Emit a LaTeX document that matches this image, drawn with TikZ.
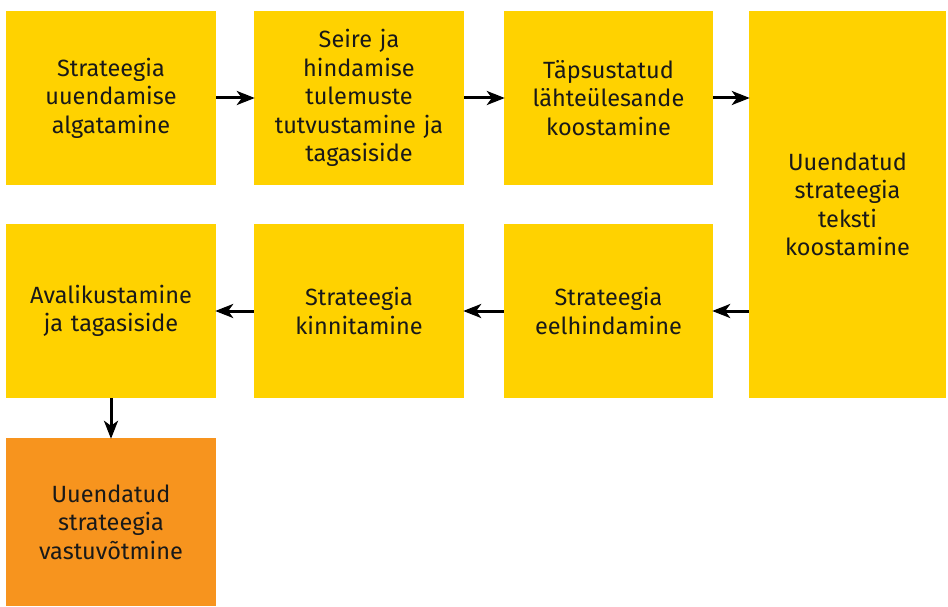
\documentclass[tikz,border=0pt]{standalone}
\usepackage{fontspec}
\setmainfont{Fira Sans}
\usepackage{tikz}
\usetikzlibrary{arrows.meta,positioning}

\definecolor{kollane}{HTML}{FFD200}
\definecolor{oranz}{HTML}{F7941E}

\tikzset{
	etapp/.style={fill=kollane,minimum width=210pt,minimum height=174pt,inner sep=0pt,
		align=center,text width=205pt,font=\fontsize{23.5}{28.5}\selectfont,text=black!90},
	noolt/.style={line width=3pt,-{Stealth[length=18pt,width=14pt,inset=5pt]},shorten >=-1pt}
}

\begin{document}
\begin{tikzpicture}[x=1pt,y=1pt,on grid,node distance=248pt]
		\useasboundingbox (0,0) rectangle (948,-607);
		\node[etapp] (e1) at (111,-98) {Strateegia\\uuendamise\\algatamine};
		\node[etapp] (e2) [right=of e1] {Seire ja\\hindamise\\tulemuste\\tutvustamine ja\\tagasiside};
		\node[etapp, minimum width=209pt] (e3) [right=249.5pt of e2] {Täpsustatud\\lähteülesande\\koostamine};
		\node[etapp, minimum width=197pt, minimum height=387pt, text width=192pt] (e4) at (847.5,-204.5) {Uuendatud\\strateegia\\teksti\\koostamine};
		
		\node[etapp, minimum width=209pt] (e7) at (608.5,-311) {Strateegia\\eelhindamine};
		\node[etapp] (e6) [left=249.5pt of e7] {Strateegia\\kinnitamine};
		\node[etapp] (e5) [left=of e6] {Avalikustamine\\ja tagasiside};
		
		\node[etapp, fill=oranz, minimum height=168pt] (e8) [below=211pt of e5] {Uuendatud\\strateegia\\vastuvõtmine};
		
		\draw[noolt] (e1.east) -- (e2.west);
		\draw[noolt] (e2.east) -- (e3.west);
		\draw[noolt] (e3.east) -- (e3.east -| e4.west);
		\draw[noolt] (e7.east -| e4.west) -- (e7.east);
		\draw[noolt] (e7.west) -- (e6.east);
		\draw[noolt] (e6.west) -- (e5.east);
		\draw[noolt] (e5.south) -- (e8.north);
	\end{tikzpicture}
\end{document}
